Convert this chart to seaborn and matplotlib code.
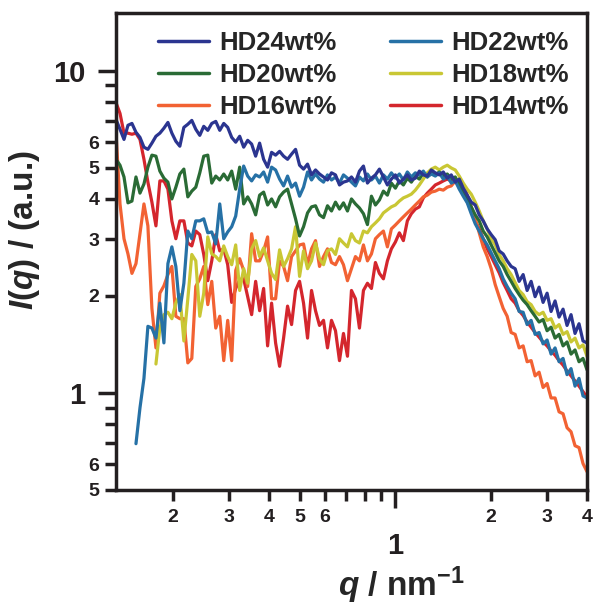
import numpy as np
import pandas as pd
import matplotlib
matplotlib.use("Agg")
import matplotlib.pyplot as plt
import seaborn as sns
from matplotlib.ticker import FixedLocator, FixedFormatter

nan = np.nan

# scattering vector q (nm^-1), shared by all curves
q = [0.1325, 0.1364, 0.1404, 0.1445, 0.1487, 0.1531, 0.1576, 0.1622, 0.1669, 0.1718,
     0.1769, 0.1820, 0.1874, 0.1929, 0.1985, 0.2043, 0.2103, 0.2165, 0.2228, 0.2293,
     0.2360, 0.2429, 0.2500, 0.2574, 0.2649, 0.2727, 0.2807, 0.2889, 0.2973, 0.3060,
     0.3150, 0.3242, 0.3337, 0.3435, 0.3535, 0.3639, 0.3745, 0.3855, 0.3968, 0.4084,
     0.4204, 0.4327, 0.4454, 0.4584, 0.4719, 0.4857, 0.5000, 0.5146, 0.5297, 0.5452,
     0.5612, 0.5776, 0.5946, 0.6120, 0.6299, 0.6484, 0.6674, 0.6869, 0.7071, 0.7278,
     0.7491, 0.7711, 0.7937, 0.8170, 0.8409, 0.8656, 0.8909, 0.9170, 0.9439, 0.9715,
     1.0000, 1.0293, 1.0595, 1.0905, 1.1225, 1.1554, 1.1892, 1.2240, 1.2599, 1.2968,
     1.3348, 1.3739, 1.4142, 1.4556, 1.4983, 1.5422, 1.5874, 1.6339, 1.6818, 1.7311,
     1.7818, 1.8340, 1.8877, 1.9430, 2.0000, 2.0586, 2.1189, 2.1810, 2.2449, 2.3107,
     2.3784, 2.4480, 2.5198, 2.5936, 2.6696, 2.7478, 2.8283, 2.9112, 2.9965, 3.0843,
     3.1747, 3.2677, 3.3635, 3.4620, 3.5634, 3.6679, 3.7753, 3.8859, 4.0000]

hd24 = [7.06, 6.58, 6.12, 6.77, 6.86, 6.44, 6.21, 5.79, 5.70, 5.96,
        6.26, 6.40, 6.63, 6.91, 6.40, 6.04, 5.83, 6.67, 6.82, 7.01,
        6.58, 6.30, 6.72, 6.53, 6.86, 6.96, 6.53, 6.86, 6.67, 6.21,
        6.00, 6.26, 5.79, 6.08, 5.92, 5.43, 5.96, 5.31, 5.02, 5.58,
        5.47, 5.62, 5.43, 5.31, 5.51, 5.70, 5.09, 4.95, 5.13, 4.75,
        4.92, 4.78, 4.68, 4.58, 4.82, 4.75, 4.42, 4.51, 4.55, 4.68,
        4.51, 4.88, 5.06, 4.48, 4.64, 4.75, 4.95, 4.68, 4.42, 4.61,
        4.75, 4.48, 4.61, 4.75, 4.58, 4.64, 4.88, 4.75, 4.71, 4.92,
        4.82, 4.75, 4.85, 4.64, 4.75, 4.51, 4.61, 4.32, 4.11, 3.91,
        3.83, 3.57, 3.42, 3.23, 3.10, 2.99, 2.76, 2.70, 2.57, 2.47,
        2.43, 2.22, 2.33, 2.08, 2.22, 1.99, 2.13, 1.91, 2.04, 1.79,
        1.93, 1.72, 1.82, 1.62, 1.75, 1.53, 1.64, 1.45, 1.43]

hd22 = [nan, nan, nan, nan, nan, 0.696, 0.899, 1.11, 1.61, 1.59,
        1.48, 1.90, 1.43, 2.52, 2.84, 2.47, 1.80, 2.19, 3.18, 3.01,
        3.42, 3.42, 3.47, 3.14, 3.16, 2.90, 3.86, 3.01, 3.16, 3.28,
        3.54, 4.29, 5.06, 4.71, 4.55, 4.75, 4.68, 4.85, 4.51, 5.02,
        4.92, 4.61, 4.39, 4.71, 4.35, 4.48, 4.08, 4.35, 4.85, 4.58,
        4.78, 4.61, 4.51, 4.75, 4.58, 4.68, 4.48, 4.75, 4.64, 4.51,
        4.39, 4.68, 4.55, 4.78, 4.58, 4.71, 4.48, 4.75, 4.61, 4.82,
        4.64, 4.78, 4.58, 4.85, 4.68, 4.82, 4.75, 4.88, 4.68, 4.78,
        4.71, 4.82, 4.61, 4.71, 4.48, 4.55, 4.29, 4.08, 3.89, 3.60,
        3.35, 3.18, 3.01, 2.88, 2.72, 2.57, 2.43, 2.26, 2.14, 2.04,
        1.96, 1.79, 1.78, 1.63, 1.68, 1.52, 1.54, 1.42, 1.46, 1.32,
        1.38, 1.25, 1.28, 1.14, 1.19, 1.05, 1.11, 0.979, 0.965]

hd20 = [5.31, 5.09, 4.68, 3.89, 3.94, 4.68, 4.17, 4.45, 5.02, 5.47,
        5.43, 4.88, 4.64, 4.51, 4.00, 4.35, 4.78, 4.95, 4.06, 4.23,
        4.35, 4.82, 5.43, 5.47, 4.48, 4.71, 4.58, 4.78, 4.58, 4.88,
        4.29, 5.02, 3.86, 4.06, 3.86, 3.57, 4.11, 4.20, 3.83, 4.00,
        3.78, 4.06, 4.20, 4.29, 3.86, 3.47, 3.07, 3.28, 3.62, 3.78,
        3.81, 3.57, 3.50, 3.81, 3.67, 3.91, 3.72, 3.89, 3.67, 4.00,
        3.86, 3.75, 3.60, 3.33, 4.08, 3.83, 3.97, 4.23, 4.11, 4.48,
        4.32, 4.55, 4.42, 4.64, 4.51, 4.71, 4.61, 4.82, 4.68, 4.88,
        4.75, 4.85, 4.71, 4.78, 4.61, 4.68, 4.42, 4.23, 4.00, 3.78,
        3.57, 3.42, 3.18, 3.05, 2.88, 2.72, 2.57, 2.47, 2.33, 2.22,
        2.11, 2.02, 1.94, 1.88, 1.80, 1.73, 1.66, 1.69, 1.56, 1.60,
        1.48, 1.52, 1.40, 1.44, 1.32, 1.36, 1.25, 1.28, 1.18]

hd18 = [nan, nan, nan, nan, nan, nan, nan, nan, nan, nan,
        1.23, 1.59, 1.75, 1.78, 1.70, 1.90, 2.02, 1.45, 1.96, 2.69,
        2.57, 1.73, 2.04, 3.05, 2.70, 2.65, 2.57, 2.86, 2.65, 2.50,
        2.88, 2.08, 2.43, 2.19, 2.80, 2.97, 2.65, 2.82, 2.57, 2.35,
        2.25, 2.78, 2.47, 2.61, 2.80, 3.28, 2.30, 2.76, 2.43, 2.57,
        2.92, 2.61, 2.50, 2.76, 2.80, 2.69, 3.01, 2.92, 2.84, 3.12,
        2.97, 2.92, 3.18, 3.14, 3.28, 3.37, 3.47, 3.62, 3.70, 3.78,
        3.83, 3.94, 4.03, 4.08, 4.14, 4.26, 4.42, 4.61, 4.82, 4.95,
        5.02, 4.92, 5.02, 5.09, 4.99, 4.92, 4.71, 4.48, 4.29, 4.14,
        3.91, 3.67, 3.42, 3.23, 3.01, 2.88, 2.69, 2.57, 2.43, 2.33,
        2.20, 2.08, 2.02, 1.92, 1.88, 1.79, 1.75, 1.78, 1.68, 1.70,
        1.59, 1.63, 1.52, 1.55, 1.44, 1.48, 1.38, 1.41, 1.30]

hd16 = [6.44, 3.86, 3.01, 2.70, 2.35, 2.52, 3.12, 3.86, 3.30, 1.83,
        1.38, 2.04, 2.15, 2.33, 2.47, 1.73, 1.70, 1.70, 1.24, 1.28,
        2.14, 2.26, 2.47, 1.88, 2.22, 1.59, 1.73, 1.26, 1.68, 1.26,
        2.40, 2.61, 2.40, 2.14, 3.12, 2.57, 2.57, 2.76, 3.05, 1.96,
        1.96, 2.57, 2.47, 2.23, 2.65, 2.76, 2.88, 2.90, 2.50, 2.80,
        2.97, 2.47, 2.65, 2.80, 2.54, 2.50, 2.65, 2.50, 2.23, 2.43,
        2.65, 2.57, 2.88, 2.57, 2.70, 3.01, 3.10, 3.18, 2.84, 3.23,
        3.32, 3.42, 3.52, 3.62, 3.72, 3.83, 3.94, 4.06, 4.11, 4.20,
        4.23, 4.29, 4.26, 4.35, 4.39, 4.55, 4.58, 4.42, 4.11, 3.78,
        3.47, 3.14, 2.84, 2.65, 2.43, 2.17, 1.99, 1.83, 1.73, 1.54,
        1.52, 1.38, 1.40, 1.25, 1.26, 1.13, 1.16, 1.04, 1.07, 0.965,
        0.965, 0.874, 0.862, 0.780, 0.758, 0.686, 0.677, 0.604, 0.570]

hd14 = [7.96, 7.37, 6.40, 6.40, 6.35, 6.40, 6.12, 5.31, 4.51, 3.91,
        3.30, 4.55, 4.55, 4.29, 3.42, 3.01, 3.42, 3.42, 2.92, 2.86,
        3.18, 3.10, 2.69, 2.23, 2.57, 3.10, 2.76, 2.80, 2.50, 1.91,
        2.11, 2.25, 2.26, 1.99, 1.75, 2.22, 1.80, 2.11, 1.40, 1.90,
        1.43, 1.21, 1.48, 1.86, 1.63, 2.08, 2.22, 1.90, 1.48, 2.08,
        1.80, 1.62, 1.68, 1.38, 1.68, 1.56, 1.26, 1.53, 1.30, 2.08,
        1.96, 1.59, 2.08, 2.19, 2.11, 2.54, 2.35, 2.26, 2.57, 2.80,
        2.94, 3.14, 2.97, 3.42, 3.60, 3.72, 3.78, 4.03, 4.17, 4.29,
        4.42, 4.48, 4.55, 4.61, 4.55, 4.58, 4.35, 4.17, 3.94, 3.67,
        3.42, 3.23, 3.01, 2.80, 2.65, 2.50, 2.36, 2.20, 2.08, 1.96,
        1.90, 1.80, 1.74, 1.66, 1.60, 1.54, 1.49, 1.44, 1.40, 1.35,
        1.31, 1.26, 1.22, 1.17, 1.13, 1.09, 1.05, 1.01, 0.97]

# drawing order (last on top)
series = {
    "HD14wt%": hd14,
    "HD16wt%": hd16,
    "HD18wt%": hd18,
    "HD20wt%": hd20,
    "HD22wt%": hd22,
    "HD24wt%": hd24,
}
colors = {
    "HD24wt%": "#2b3590",
    "HD22wt%": "#2671a6",
    "HD20wt%": "#2a6b35",
    "HD18wt%": "#c9c734",
    "HD16wt%": "#f26233",
    "HD14wt%": "#d4262d",
}
legend_order = ["HD24wt%", "HD20wt%", "HD16wt%", "HD22wt%", "HD18wt%", "HD14wt%"]

rows = []
for name, vals in series.items():
    for qq, ii in zip(q, vals):
        rows.append((name, qq, ii))
df = pd.DataFrame(rows, columns=["sample", "q", "I"]).dropna()

sns.set_style("ticks")
plt.rcParams["font.family"] = ["Liberation Sans", "DejaVu Sans"]
plt.rcParams["font.weight"] = "bold"
plt.rcParams["mathtext.fontset"] = "custom"
plt.rcParams["mathtext.rm"] = "Liberation Sans:bold"
plt.rcParams["mathtext.it"] = "Liberation Sans:italic:bold"
plt.rcParams["mathtext.bf"] = "Liberation Sans:bold"
plt.rcParams["axes.linewidth"] = 2.5
plt.rcParams["axes.edgecolor"] = "#231f20"

fig = plt.figure(figsize=(5.93, 6.08), dpi=100)
ax = fig.add_axes([0.1956, 0.1941, 0.7943, 0.7845])
ax.set_xscale("log")
ax.set_yscale("log")

handles = {}
for name in series:
    sub = df[df["sample"] == name]
    sns.lineplot(data=sub, x="q", y="I", ax=ax, color=colors[name], lw=2.3,
                 estimator=None, sort=False, legend=False)
    handles[name] = ax.get_lines()[-1]

ax.set_xlim(0.1325, 4.0)
ax.set_ylim(0.5, 15.1)

# ticks
ax.xaxis.set_major_locator(FixedLocator([1]))
ax.xaxis.set_major_formatter(FixedFormatter(["1"]))
ax.xaxis.set_minor_locator(FixedLocator([0.2, 0.3, 0.4, 0.5, 0.6, 0.7, 0.8, 0.9, 2, 3, 4]))
ax.xaxis.set_minor_formatter(FixedFormatter(["2", "3", "4", "5", "6", "", "", "", "2", "3", "4"]))
ax.yaxis.set_major_locator(FixedLocator([1, 10]))
ax.yaxis.set_major_formatter(FixedFormatter(["1", "10"]))
ax.yaxis.set_minor_locator(FixedLocator([0.5, 0.6, 0.7, 0.8, 0.9, 2, 3, 4, 5, 6, 7, 8, 9]))
ax.yaxis.set_minor_formatter(FixedFormatter(["5", "6", "", "", "", "2", "3", "4", "5", "6", "", "", ""]))

ax.tick_params(which="both", direction="out", width=2.5, colors="#231f20")
ax.tick_params(which="major", length=13, labelsize=21)
ax.tick_params(which="minor", length=8, labelsize=14)
ax.tick_params(axis="x", which="major", pad=17)
ax.tick_params(axis="x", which="minor", pad=6)
ax.tick_params(axis="y", which="major", pad=9)
ax.tick_params(axis="y", which="minor", pad=4)

ax.set_xlabel(r"$\mathit{q}$ / nm$^{-1}$", fontsize=24, fontweight="bold")
ax.set_ylabel(r"$\mathit{I(q)}$ / (a.u.)", fontsize=24, fontweight="bold")
ax.xaxis.set_label_coords(0.605, -0.157)
ax.yaxis.set_label_coords(-0.157, 0.545)

leg = ax.legend([handles[n] for n in legend_order], legend_order, ncol=2,
                loc="upper left", bbox_to_anchor=(0.089, 0.962), frameon=False,
                fontsize=18.5, handlelength=2.0, handletextpad=0.4,
                columnspacing=2.05, labelspacing=0.3, borderpad=0, borderaxespad=0)
for line in leg.get_lines():
    line.set_linewidth(2.5)

fig.savefig("out.png", dpi=100)
